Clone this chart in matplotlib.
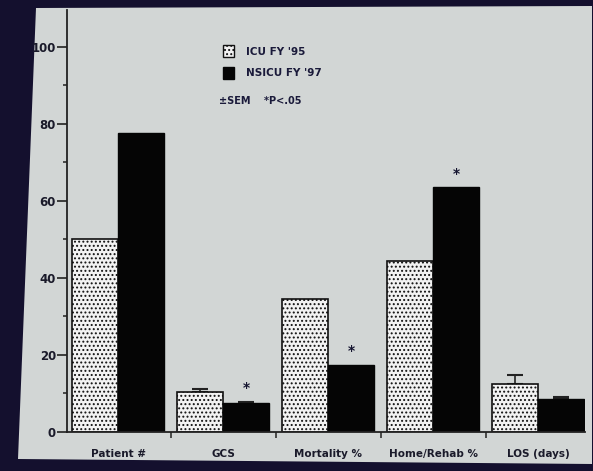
import matplotlib
matplotlib.use("Agg")
import matplotlib.pyplot as plt
from matplotlib.patches import Polygon, Patch
import numpy as np

categories = ["Patient #", "GCS", "Mortality %", "Home/Rehab %", "LOS (days)"]
icu95 = [50, 10.5, 34.5, 44.5, 12.5]
nsicu97 = [77.5, 7.5, 17.5, 63.5, 8.5]
icu95_err = [0, 0.6, 0, 0, 2.3]
nsicu97_err = [0, 0.3, 0, 0, 0.6]
significant = [False, True, True, True, False]
legend_labels = ["ICU FY '95", "NSICU FY '97"]
note_text = "±SEM    *P<.05"

W, H = 593, 471
fig = plt.figure(figsize=(W / 100, H / 100), dpi=100)
fig.patch.set_facecolor("#14102e")

# slide panel
panel = Polygon([(36 / W, 1 - 8 / H), (592 / W, 1 - 6 / H), (592 / W, 1 - 464 / H), (18 / W, 1 - 459 / H)],
                closed=True, transform=fig.transFigure, facecolor="#d2d6d5", edgecolor="none", zorder=-5)
fig.patches.append(panel)

left, right, bottom, top = 67, 585, 432, 10
ax = fig.add_axes([left / W, 1 - bottom / H, (right - left) / W, (bottom - top) / H])
ax.set_facecolor("none")
ax.set_zorder(2)

x = np.arange(len(categories))
w = 0.44
plt.rcParams["hatch.linewidth"] = 0.9
plt.rcParams["hatch.color"] = "#555555"
ax.bar(x - w / 2, icu95, w, facecolor="#f2f2f2", edgecolor="#111111", hatch="....", linewidth=1.2, zorder=2)
ax.bar(x + w / 2, nsicu97, w, facecolor="#050505", edgecolor="#050505", linewidth=1.0, zorder=2)

ekw = dict(fmt="none", ecolor="#222222", capsize=6, elinewidth=1.2, capthick=1.5, zorder=1)
for i in range(len(categories)):
    if icu95_err[i] > 0:
        ax.errorbar(x[i] - w / 2, icu95[i], yerr=[[0], [icu95_err[i]]], **ekw)
    if nsicu97_err[i] > 0:
        ax.errorbar(x[i] + w / 2, nsicu97[i], yerr=[[0], [nsicu97_err[i]]], **ekw)

for i, s in enumerate(significant):
    if s:
        ax.text(x[i] + w / 2, nsicu97[i] + nsicu97_err[i] + 3.5, "*", ha="center", va="center",
                fontsize=10, fontweight="bold", color="#151530")

ax.set_xlim(-0.486, 4.447)
ax.set_ylim(0, 109.5)

ax.spines["top"].set_visible(False)
ax.spines["right"].set_visible(False)
for s in ["left", "bottom"]:
    ax.spines[s].set_color("#222222")
    ax.spines[s].set_linewidth(1.3)

ax.set_yticks([0, 20, 40, 60, 80, 100])
ax.set_yticks([10, 30, 50, 70, 90], minor=True)
ax.tick_params(axis="y", which="major", length=7, width=1.2, color="#222222", labelsize=8.5, labelcolor="#1a1a2a", pad=1)
ax.tick_params(axis="y", which="minor", length=3, width=1.1, color="#222222")
for lab in ax.get_yticklabels():
    lab.set_fontweight("bold")

ax.set_xticks(x)
ax.set_xticklabels(categories, fontsize=7.5, fontweight="bold", color="#1a1a2a")
ax.set_xticks(x[:-1] + 0.5, minor=True)
ax.tick_params(axis="x", which="major", length=0, pad=12)
ax.tick_params(axis="x", which="minor", length=4, width=1.1, color="#222222", direction="out")

handles = [Patch(facecolor="#f2f2f2", edgecolor="#111111", hatch="....", linewidth=1.0),
           Patch(facecolor="#050505", edgecolor="#050505")]
leg = fig.legend(handles, legend_labels, loc="upper left", bbox_to_anchor=(214 / W, 1 - 36 / H),
                 frameon=False, handlelength=1.0, handleheight=1.4, handletextpad=1.2,
                 labelspacing=0.9, prop={"weight": "bold", "size": 7.5})
for t in leg.get_texts():
    t.set_color("#1a1a3a")
fig.text(219 / W, 1 - 101 / H, note_text, fontsize=7, fontweight="bold", color="#1a1a3a", va="center")

fig.savefig("out.png", dpi=100, facecolor=fig.get_facecolor())
